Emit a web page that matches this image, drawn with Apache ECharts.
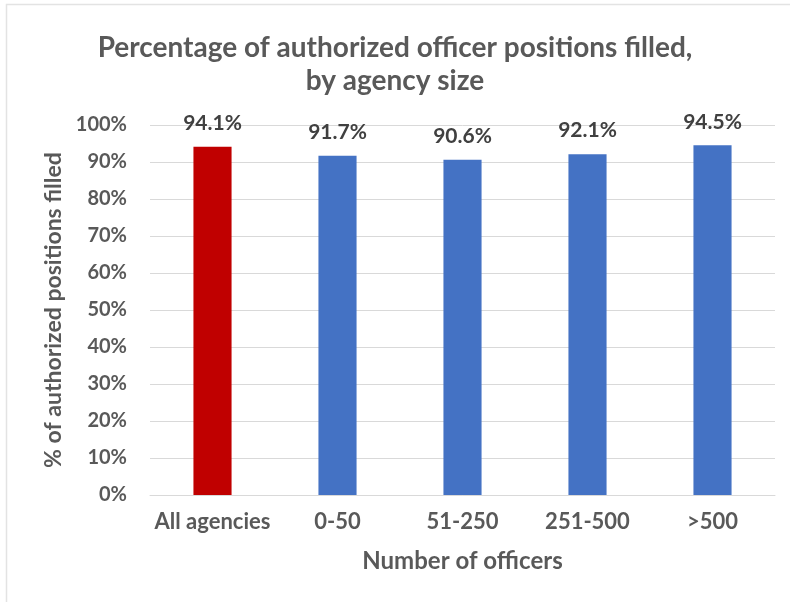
<!DOCTYPE html>
<html>
<head>
<meta charset="utf-8">
<script src="https://cdn.jsdelivr.net/npm/echarts@6/dist/echarts.min.js"></script>
<style>
html,body{margin:0;padding:0;background:#fff;}
#chart{width:790px;height:602px;}
</style>
</head>
<body>
<div id="chart"></div>
<script>
const categories = ["All agencies", "0-50", "51-250", "251-500", ">500"];
const values = [94.1, 91.7, 90.6, 92.1, 94.5];
const barColors = ["#C00000", "#4472C4", "#4472C4", "#4472C4", "#4472C4"];
const yTicks = [0, 10, 20, 30, 40, 50, 60, 70, 80, 90, 100];
const titleText = "Percentage of authorized officer positions filled,\nby agency size";
const xName = "Number of officers";
const yName = "% of authorized positions filled";

const FONT = "Lato";
const chart = echarts.init(document.getElementById('chart'), null, {renderer: 'canvas'});
chart.setOption({
  backgroundColor: '#ffffff',
  animation: false,
  graphic: [{
    type: 'rect',
    shape: {x: 6.5, y: 4.5, width: 800, height: 620},
    style: {fill: 'none', stroke: '#e3e3e3', lineWidth: 1.5},
    silent: true
  }],
  title: {
    text: titleText,
    left: 'center',
    top: 26,
    textStyle: {
      fontFamily: FONT, fontWeight: 'bold', fontSize: 28, color: '#595959', lineHeight: 33
    }
  },
  grid: {left: 150, right: 15, top: 125, bottom: 107, containLabel: false},
  xAxis: {
    type: 'category',
    data: categories,
    name: xName,
    nameLocation: 'middle',
    nameGap: 54,
    nameTextStyle: {fontFamily: FONT, fontWeight: 'bold', fontSize: 24, color: '#595959'},
    axisLine: {show: true, lineStyle: {color: '#d9d9d9', width: 1}},
    axisTick: {show: false},
    axisLabel: {fontFamily: FONT, fontWeight: 'bold', fontSize: 22, color: '#595959', margin: 16, interval: 0}
  },
  yAxis: {
    type: 'value',
    min: 0, max: 100, interval: 10,
    name: yName,
    nameLocation: 'middle',
    nameGap: 84,
    nameTextStyle: {fontFamily: FONT, fontWeight: 'bold', fontSize: 23, color: '#595959'},
    axisLine: {show: false},
    axisTick: {show: false},
    splitLine: {lineStyle: {color: '#d9d9d9', width: 1}},
    axisLabel: {
      fontFamily: FONT, fontWeight: 'bold', fontSize: 20, color: '#595959', margin: 23,
      formatter: v => yTicks.includes(v) ? v + '%' : ''
    }
  },
  series: [{
    type: 'bar',
    data: values.map((v, i) => ({value: v, itemStyle: {color: barColors[i]}})),
    barWidth: '30.5%',
    label: {
      show: true, position: 'top', distance: 13,
      fontFamily: FONT, fontWeight: 'bold', fontSize: 21, color: '#404040',
      formatter: p => p.value.toFixed(1) + '%'
    }
  }]
});
</script>
</body>
</html>
